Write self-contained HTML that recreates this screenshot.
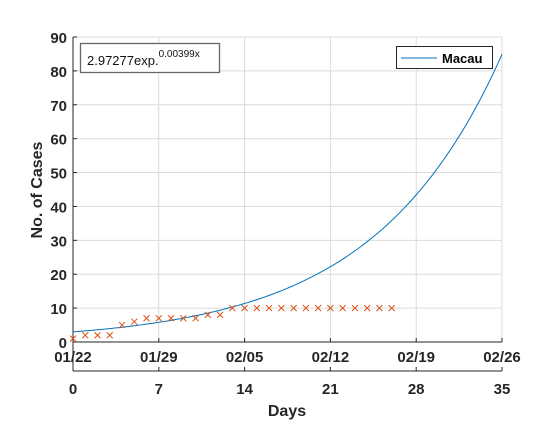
<!DOCTYPE html>
<html><head><meta charset="utf-8"><style>body{margin:0;background:#fff}svg{font-family:"Liberation Sans",Arial,sans-serif}</style></head>
<body>
<svg id="c" width="560" height="420"></svg>
<script>
const days=[0,1,2,3,4,5,6,7,8,9,10,11,12,13,14,15,16,17,18,19,20,21,22,23,24,25,26];
const cases=[1,2,2,2,5,6,7,7,7,7,7,8,8,10,10,10,10,10,10,10,10,10,10,10,10,10,10];
const yTicks=[0,10,20,30,40,50,60,70,80,90];
const xTicks=[0,7,14,21,28,35];
const dateLabels=["01/22","01/29","02/05","02/12","02/19","02/26"];
const fitA=2.97277, fitB=0.00399*24;
const L=73,R=502,T=37,B=342;
const sx=d=>L+(R-L)*d/35, sy=v=>B-(B-T)*v/90;
const svg=document.getElementById('c');const NS='http://www.w3.org/2000/svg';
function mk(t,a,p){const e=document.createElementNS(NS,t);for(const k in a)e.setAttribute(k,a[k]);(p||svg).appendChild(e);return e;}
mk('rect',{x:0,y:0,width:560,height:420,fill:'#fff'});
yTicks.forEach(v=>{const g=mk('line',{x1:L,x2:R,y1:sy(v),y2:sy(v),stroke:'#dcdcdc','stroke-width':1});

const t=mk('text',{x:L-6,y:sy(v)+6,'text-anchor':'end','font-size':15,'font-weight':'bold',fill:'#262626'});t.textContent=v;

mk('line',{x1:L,x2:L+4,y1:sy(v),y2:sy(v),stroke:'#262626'});});
xTicks.forEach((d,i)=>{const g=mk('line',{x1:sx(d),x2:sx(d),y1:T,y2:B,stroke:'#dcdcdc'});

const t=mk('text',{x:sx(d),y:B+20,'text-anchor':'middle','font-size':15,'font-weight':'bold',fill:'#262626'});t.textContent=dateLabels[i];

const t2=mk('text',{x:sx(d),y:394,'text-anchor':'middle','font-size':15,'font-weight':'bold',fill:'#262626'});t2.textContent=d;

mk('line',{x1:sx(d),x2:sx(d),y1:B,y2:B-4,stroke:'#262626'});
mk('line',{x1:sx(d),x2:sx(d),y1:371,y2:367,stroke:'#262626'});});
mk('line',{x1:L,x2:L,y1:T,y2:371,stroke:'#262626'});
mk('line',{x1:L,x2:R,y1:B,y2:B,stroke:'#262626'});
mk('line',{x1:L,x2:R,y1:371,y2:371,stroke:'#262626'});
let p='';for(let i=0;i<=140;i++){const d=35*i/140;p+=(i?'L':'M')+sx(d).toFixed(2)+','+sy(fitA*Math.exp(fitB*d)).toFixed(2);}
const fl=mk('path',{d:p,fill:'none',stroke:'#0072bd','stroke-width':1});

days.forEach((d,i)=>{const x=sx(d),y=sy(cases[i]);const g=mk('path',{d:`M${x-3},${y-3}L${x+3},${y+3}M${x-3},${y+3}L${x+3},${y-3}`,stroke:'#d95319','stroke-width':1});
});
const fb=mk('rect',{x:80.5,y:43.5,width:139,height:29,fill:'#fff',stroke:'#666','stroke-width':1.3});

const ft=mk('text',{x:87,y:65,'font-size':13,fill:'#111'});ft.innerHTML='2.97277exp.<tspan dy="-8" font-size="10">0.00399x</tspan>';

const lg=mk('rect',{x:396.5,y:46.5,width:96,height:22,fill:'#fff',stroke:'#262626'});

mk('line',{x1:401,x2:437,y1:58,y2:58,stroke:'#0072bd'});
const lt=mk('text',{x:442,y:63,'font-size':13,'font-weight':'bold',fill:'#000'});lt.textContent='Macau';

const yl=mk('text',{x:0,y:0,transform:'translate(42,190) rotate(-90)','text-anchor':'middle','font-size':16,'font-weight':'bold',fill:'#262626'});yl.textContent='No. of Cases';

const xl=mk('text',{x:287,y:416,'text-anchor':'middle','font-size':16,'font-weight':'bold',fill:'#262626'});xl.textContent='Days';

</script>
</body></html>
